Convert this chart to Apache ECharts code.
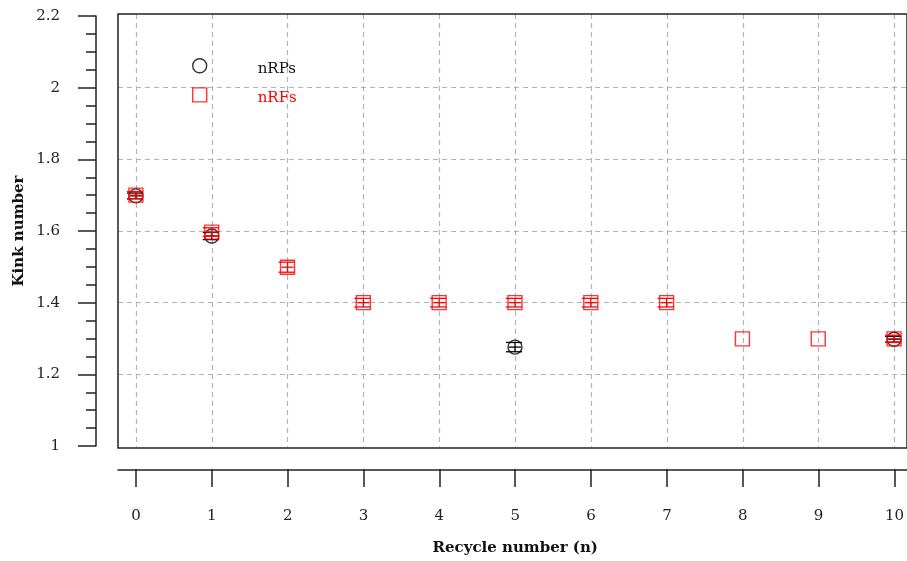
<!DOCTYPE html>
<html>
<head>
<meta charset="utf-8">
<script src="https://cdn.jsdelivr.net/npm/echarts@6/dist/echarts.min.js"></script>
<style>html,body{margin:0;padding:0;background:#fff}#c{width:907px;height:561px}</style>
</head>
<body>
<div id="c"></div>
<script>
// ---- data ----
const xTicks = [0,1,2,3,4,5,6,7,8,9,10];
const nRPsX = [0, 1, 5, 10];
const nRPsY = [1.698, 1.586, 1.276, 1.298];
const nRPsErr = [0.008, 0.010, 0.013, 0.008];
const nRFsX = [0,1,2,3,4,5,6,7,8,9,10];
const nRFsY = [1.700, 1.597, 1.499, 1.400, 1.400, 1.400, 1.400, 1.400, 1.299, 1.299, 1.299];
const nRFsErr = [0.010, 0.012, 0.014, 0.012, 0.012, 0.012, 0.012, 0.012, 0, 0, 0.010];
const yMin = 1, yMax = 2.2, yStep = 0.2;
const xMin = 0, xMax = 10, xStep = 1;

const FONT = 'DejaVu Serif';
const RED = '#ff0000';

const rps = nRPsX.map((x, i) => [x, nRPsY[i], nRPsErr[i]]);
const rfs = nRFsX.map((x, i) => [x, nRFsY[i], nRFsErr[i]]);

function errBar(color) {
  return function (params, api) {
    const x = api.value(0), y = api.value(1), e = api.value(2);
    if (!e) return null;
    const top = api.coord([x, y + e]);
    const bot = api.coord([x, y - e]);
    const c = api.coord([x, y]);
    const hw = 8;
    const st = { stroke: color, lineWidth: 1.3 };
    return {
      type: 'group',
      children: [
        { type: 'line', shape: { x1: c[0], y1: top[1], x2: c[0], y2: bot[1] }, style: st },
        { type: 'line', shape: { x1: c[0] - hw - 1, y1: top[1], x2: c[0] + hw - 1, y2: top[1] }, style: st },
        { type: 'line', shape: { x1: c[0] - hw - 1, y1: bot[1], x2: c[0] + hw - 1, y2: bot[1] }, style: st },
        { type: 'line', shape: { x1: c[0] - 6, y1: c[1], x2: c[0] + 6, y2: c[1] }, style: st }
      ]
    };
  };
}

// layout of the three stacked grids
const W = 907, H = 561;
const fL = 118, fR = -4, fT = 14, fB = 448;           // frame box
const x0px = 136, x10px = 898, y1px = 446, y22px = 16; // where axis ranges sit
const pxPerX = (x10px - x0px) / (xMax - xMin);
const pxPerY = (y1px - y22px) / (yMax - yMin);
const aXMin = xMin - (x0px - fL) / pxPerX;
const aXMax = aXMin + (W - fR - fL) / pxPerX;
const aYMin = yMin - (fB - y1px) / pxPerY;
const aYMax = aYMin + (fB - fT) / pxPerY;

const dashed = { show: true, lineStyle: { color: '#b4b4b4', type: [5, 4], width: 1.2 } };
const axisCol = '#222';

const option = {
  animation: false,
  backgroundColor: '#fff',
  textStyle: { fontFamily: FONT },
  grid: [
    { left: fL, right: fR, top: fT, bottom: H - fB, show: true, borderColor: axisCol, borderWidth: 1.5, backgroundColor: 'transparent', z: 3 },
    { left: x0px, right: W - x10px, top: fT, bottom: H - fB },
    { left: fL, right: fR, top: y22px, bottom: H - y1px }
  ],
  xAxis: [
    { gridIndex: 0, type: 'value', min: aXMin, max: aXMax, position: 'bottom', offset: 22,
      axisLine: { show: true, onZero: false, lineStyle: { color: axisCol, width: 1.5 } },
      axisTick: { show: false }, axisLabel: { show: false }, splitLine: { show: false } },
    { gridIndex: 1, type: 'value', min: xMin, max: xMax, interval: xStep, position: 'bottom', offset: 22,
      axisLine: { show: false, onZero: false },
      axisTick: { show: true, length: 18, lineStyle: { color: axisCol, width: 1.5 } },
      axisLabel: { show: true, margin: 40, color: '#222', fontSize: 15, fontFamily: FONT },
      splitLine: dashed,
      name: 'Recycle number (n)', nameLocation: 'middle', nameGap: 72, nameMoveOverlap: false,
      nameTextStyle: { fontFamily: FONT, fontSize: 15, fontWeight: 'bold', color: '#111' } },
    { gridIndex: 2, type: 'value', min: 5, max: 6, show: false, axisLine: { onZero: false } }
  ],
  yAxis: [
    { gridIndex: 0, type: 'value', min: aYMin, max: aYMax, show: false, axisLine: { onZero: false } },
    { gridIndex: 1, type: 'value', min: 5, max: 6, show: false, axisLine: { onZero: false } },
    { gridIndex: 2, type: 'value', min: yMin, max: yMax, interval: yStep, position: 'left', offset: 22,
      axisLine: { show: true, onZero: false, lineStyle: { color: axisCol, width: 1.5 } },
      axisTick: { show: true, length: 18, lineStyle: { color: axisCol, width: 1.5 } },
      minorTick: { show: true, splitNumber: 4, length: 10, lineStyle: { color: axisCol, width: 1.5 } },
      axisLabel: { show: true, margin: 36, color: '#222', fontSize: 15, fontFamily: FONT,
        formatter: v => String(+v.toFixed(1)) },
      splitLine: Object.assign({ showMinLine: false, showMaxLine: false }, dashed),
      name: 'Kink number', nameLocation: 'middle', nameGap: 69, nameRotate: 90, nameMoveOverlap: false,
      nameTextStyle: { fontFamily: FONT, fontSize: 15, fontWeight: 'bold', color: '#111' } }
  ],
  legend: {
    orient: 'vertical', left: 192, top: 58, padding: 0, itemWidth: 14, itemHeight: 14, itemGap: 11,
    formatter: name => '{g|}{t|' + name + '}',
    textStyle: { fontFamily: FONT, fontSize: 15, color: '#111',
      rich: { g: { width: 46 }, t: { padding: [6, 0, 0, 0] } } },
    data: [
      { name: 'nRPs', icon: 'circle', itemStyle: { color: 'rgba(0,0,0,0)', borderColor: '#000', borderWidth: 1.4 }, textStyle: { color: '#111' } },
      { name: 'nRFs', icon: 'rect', itemStyle: { color: 'rgba(0,0,0,0)', borderColor: RED, borderWidth: 1.4 }, textStyle: { color: RED } }
    ]
  },
  series: [
    { name: 'nRPs', type: 'scatter', xAxisIndex: 0, yAxisIndex: 0, symbol: 'circle', symbolSize: 14,
      itemStyle: { color: 'rgba(0,0,0,0)', borderColor: '#000', borderWidth: 1.4 }, data: rps, z: 5 },
    { name: 'nRFs', type: 'scatter', xAxisIndex: 0, yAxisIndex: 0, symbol: 'rect', symbolSize: 14,
      itemStyle: { color: 'rgba(0,0,0,0)', borderColor: RED, borderWidth: 1.4 }, data: rfs, z: 6 },
    { name: 'nRPs err', type: 'custom', xAxisIndex: 0, yAxisIndex: 0, renderItem: errBar('#000'), data: rps, z: 5 },
    { name: 'nRFs err', type: 'custom', xAxisIndex: 0, yAxisIndex: 0, renderItem: errBar(RED), data: rfs, z: 6 }
  ]
};
const chart = echarts.init(document.getElementById('c'), null, { renderer: 'canvas' });
chart.setOption(option);
</script>
</body>
</html>
